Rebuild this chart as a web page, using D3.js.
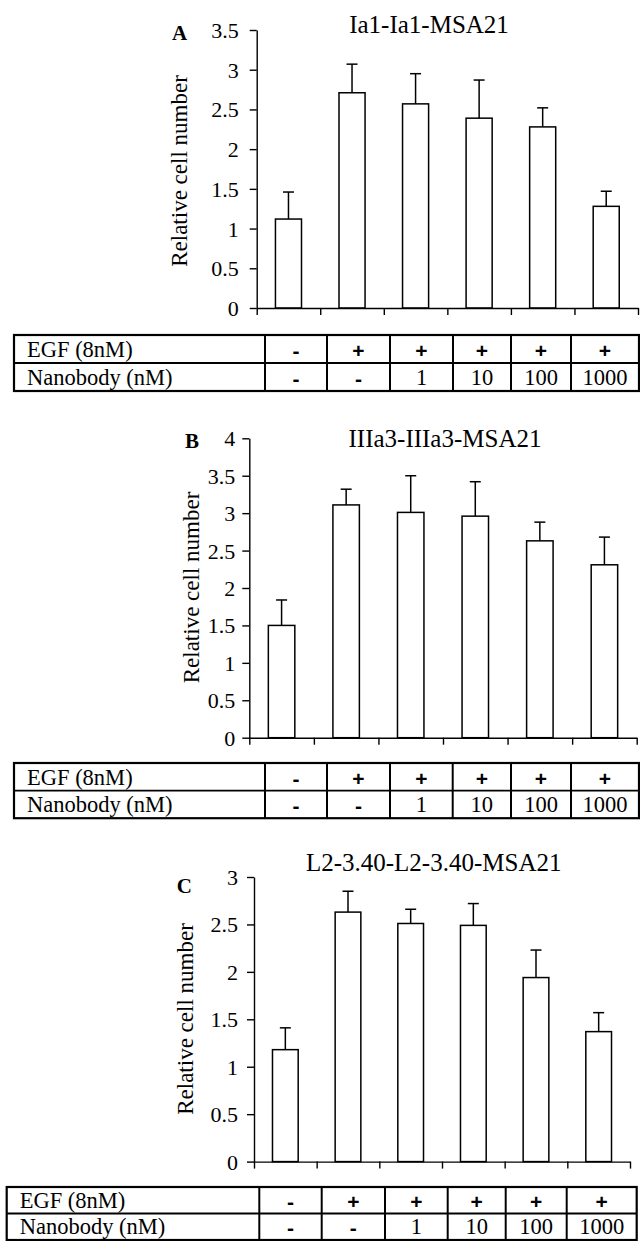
<!DOCTYPE html>
<html>
<head>
<meta charset="utf-8">
<script src="https://cdn.jsdelivr.net/npm/d3@7"></script>
<style>
  body { margin: 0; background: #fff; }
  svg { display: block; }
  svg text { font-family: "Liberation Serif", "Times New Roman", serif; fill: #000; }
  svg text.sign { font-family: "Liberation Sans", Arial, sans-serif; font-weight: bold; }
</style>
</head>
<body>
<div id="chart"></div>
<script>
// Data
const panelLetters = ['A', 'B', 'C'];
const panelTitles = ['Ia1-Ia1-MSA21', 'IIIa3-IIIa3-MSA21', 'L2-3.40-L2-3.40-MSA21'];
const yLabel = 'Relative cell number';

const meansA = [1.12, 2.71, 2.57, 2.39, 2.28, 1.28];
const errA   = [0.34, 0.36, 0.38, 0.48, 0.24, 0.19];
const meansB = [1.50, 3.11, 3.01, 2.96, 2.63, 2.31];
const errB   = [0.34, 0.21, 0.49, 0.46, 0.25, 0.37];
const meansC = [1.18, 2.63, 2.51, 2.49, 1.94, 1.37];
const errC   = [0.23, 0.22, 0.15, 0.23, 0.29, 0.20];

const yTicksA = [0, 0.5, 1, 1.5, 2, 2.5, 3, 3.5];
const yTicksB = [0, 0.5, 1, 1.5, 2, 2.5, 3, 3.5, 4];
const yTicksC = [0, 0.5, 1, 1.5, 2, 2.5, 3];

const rowLabels = ['EGF (8nM)', 'Nanobody (nM)'];
const egfRow = ['-', '+', '+', '+', '+', '+'];
const nanobodyRow = ['-', '-', '1', '10', '100', '1000'];

// Layout of each panel (pixels)
const layouts = [
  { x0: 256.7, x1: 638, y0: 308, yTop: 30, pad: 11,
    tableTop: 335, rowH: 28, cols: [14, 265, 327, 390, 453, 511, 571, 639],
    titleX: 429, titleY: 33, letterX: 172, letterY: 40, labelX: 186.5, labelY: 171 },
  { x0: 249.3, x1: 636.7, y0: 737.7, yTop: 438.3, pad: 7,
    tableTop: 763, rowH: 27.6, cols: [14, 265, 327, 390, 452.7, 511, 571, 639],
    titleX: 445, titleY: 447, letterX: 185, letterY: 448, labelX: 199, labelY: 587.5 },
  { x0: 254, x1: 630, y0: 1161.6, yTop: 877, pad: 9,
    tableTop: 1187, rowH: 26.5, cols: [6.7, 259.3, 321.7, 385, 447.7, 505.7, 566.7, 636.7],
    titleX: 433.7, titleY: 871, letterX: 176.7, letterY: 893, labelX: 192.5, labelY: 1019 }
];

const panels = [
  { means: meansA, errs: errA, ticks: yTicksA },
  { means: meansB, errs: errB, ticks: yTicksB },
  { means: meansC, errs: errC, ticks: yTicksC }
];

const W = 640, H = 1241;
const svg = d3.select('#chart').append('svg')
  .attr('width', W).attr('height', H)
  .attr('viewBox', `0 0 ${W} ${H}`);
svg.append('rect').attr('width', W).attr('height', H).attr('fill', '#fff');

const isSign = d => d === '+' || d === '-';

panels.forEach((p, i) => {
  const L = layouts[i];
  const g = svg.append('g');
  const n = p.means.length;

  const y = d3.scaleLinear([0, d3.max(p.ticks)], [L.y0, L.yTop]);
  const x = d3.scaleBand(d3.range(n), [L.x0, L.x1]);
  const xEdge = d3.scaleLinear([0, n], [L.x0, L.x1]);
  const barW = x.bandwidth() * 0.41;
  const cx = j => x(j) + x.bandwidth() / 2;

  // bars
  g.selectAll('rect.bar')
    .data(p.means)
    .join('rect')
    .classed('bar', true)
    .attr('x', (d, j) => cx(j) - barW / 2)
    .attr('y', d => y(d))
    .attr('width', barW)
    .attr('height', d => y(0) - y(d))
    .attr('fill', '#fff')
    .attr('stroke', '#000')
    .attr('stroke-width', 1.5);

  // upper error bars
  const eb = g.selectAll('g.err')
    .data(p.means.map((m, j) => ({ m, e: p.errs[j], j })))
    .join('g').classed('err', true)
    .attr('stroke', '#000').attr('stroke-width', 1.5);
  eb.append('line')
    .attr('x1', d => cx(d.j)).attr('x2', d => cx(d.j))
    .attr('y1', d => y(d.m)).attr('y2', d => y(d.m + d.e));
  eb.append('line')
    .attr('x1', d => cx(d.j) - 5.5).attr('x2', d => cx(d.j) + 5.5)
    .attr('y1', d => y(d.m + d.e)).attr('y2', d => y(d.m + d.e));

  // axes
  const axY = g.append('g')
    .attr('transform', `translate(${L.x0},0)`)
    .call(d3.axisLeft(y).tickValues(p.ticks).tickFormat(d => String(d))
      .tickSize(7).tickSizeOuter(0).tickPadding(L.pad));
  const axX = g.append('g')
    .attr('transform', `translate(0,${L.y0})`)
    .call(d3.axisBottom(xEdge).tickValues(d3.range(n + 1)).tickFormat('')
      .tickSize(7).tickSizeOuter(0));
  [axY, axX].forEach(a => {
    a.attr('font-family', null).attr('font-size', null);
    a.selectAll('path, line').attr('stroke', '#000').attr('stroke-width', 1.4);
    a.selectAll('text').attr('fill', '#000').style('font-size', '22px');
  });
  axY.selectAll('text').attr('dy', '0.34em');

  // labels
  g.append('text')
    .attr('x', L.titleX).attr('y', L.titleY)
    .attr('text-anchor', 'middle')
    .style('font-size', '25px')
    .text(panelTitles[i]);
  g.append('text')
    .attr('x', L.letterX).attr('y', L.letterY)
    .style('font-size', '21px').style('font-weight', 'bold')
    .text(panelLetters[i]);
  g.append('text')
    .attr('transform', `translate(${L.labelX},${L.labelY})rotate(-90)`)
    .attr('text-anchor', 'middle')
    .style('font-size', '23px')
    .text(yLabel);

  // condition table
  const t = g.append('g');
  const c = L.cols, top = L.tableTop, rh = L.rowH;
  const rows = [egfRow, nanobodyRow];
  t.append('rect')
    .attr('x', c[0]).attr('y', top)
    .attr('width', c[c.length - 1] - c[0]).attr('height', rh * 2)
    .attr('fill', 'none').attr('stroke', '#000').attr('stroke-width', 2.2);
  t.append('line')
    .attr('x1', c[0]).attr('x2', c[c.length - 1])
    .attr('y1', top + rh).attr('y2', top + rh)
    .attr('stroke', '#000').attr('stroke-width', 1.8);
  t.selectAll('line.col')
    .data(c.slice(1, -1))
    .join('line').classed('col', true)
    .attr('x1', d => d).attr('x2', d => d)
    .attr('y1', top).attr('y2', top + rh * 2)
    .attr('stroke', '#000').attr('stroke-width', 2);
  rows.forEach((row, r) => {
    const base = top + rh * (r + 1) - 6;
    t.append('text')
      .attr('x', c[0] + 13).attr('y', base)
      .style('font-size', '22.5px')
      .text(rowLabels[r]);
    t.selectAll(`text.cell${r}`)
      .data(row)
      .join('text')
      .attr('class', d => isSign(d) ? `cell${r} sign` : `cell${r}`)
      .attr('x', (d, j) => (c[j + 1] + c[j + 2]) / 2)
      .attr('y', d => isSign(d) ? base + 1 : base)
      .attr('text-anchor', 'middle')
      .style('font-size', d => isSign(d) ? '21px' : '22.5px')
      .text(d => d);
  });
});
</script>
</body>
</html>
